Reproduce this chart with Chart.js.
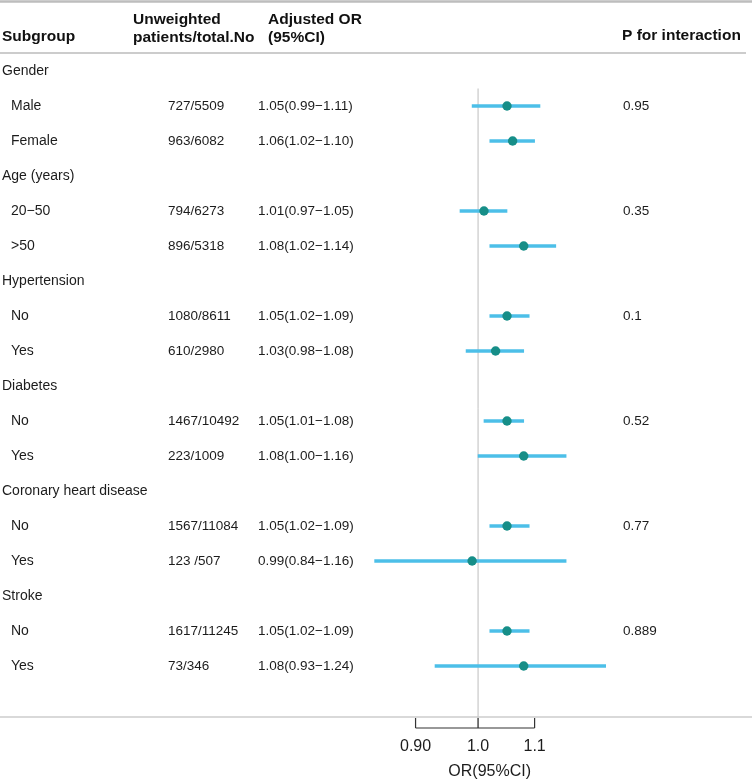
<!DOCTYPE html>
<html lang="en">
<head>
  <meta charset="UTF-8" />
  <title>Subgroup forest plot</title>
  <script src="https://cdn.jsdelivr.net/npm/chart.js"></script>
  <style>
    body {
      margin: 0;
      padding: 0;
      background: #fff;
    }
    #wrap {
      position: relative;
      width: 752px;
      height: 781px;
    }
  </style>
</head>
<body>
  <div id="wrap"><canvas id="forest"></canvas></div>

  <script>
    // table rows, top to bottom
    const rowLabels = ['Gender', 'Male', 'Female', 'Age (years)', '20\u221250', '>50',
      'Hypertension', 'No', 'Yes', 'Diabetes', 'No', 'Yes',
      'Coronary heart disease', 'No', 'Yes', 'Stroke', 'No', 'Yes'];
    const isGroup = [1, 0, 0, 1, 0, 0, 1, 0, 0, 1, 0, 0, 1, 0, 0, 1, 0, 0];
    const counts = ['', '727/5509', '963/6082', '', '794/6273', '896/5318',
      '', '1080/8611', '610/2980', '', '1467/10492', '223/1009',
      '', '1567/11084', '123 /507', '', '1617/11245', '73/346'];
    const orValue = [null, 1.05, 1.06, null, 1.01, 1.08, null, 1.05, 1.03,
      null, 1.05, 1.08, null, 1.05, 0.99, null, 1.05, 1.08];
    const ciLow = [null, 0.99, 1.02, null, 0.97, 1.02, null, 1.02, 0.98,
      null, 1.01, 1.00, null, 1.02, 0.84, null, 1.02, 0.93];
    const ciHigh = [null, 1.11, 1.10, null, 1.05, 1.14, null, 1.09, 1.08,
      null, 1.08, 1.16, null, 1.09, 1.16, null, 1.09, 1.24];
    const pInteraction = ['', '0.95', '', '', '0.35', '', '', '0.1', '', '',
      '0.52', '', '', '0.77', '', '', '0.889', ''];
    const xTicks = [0.9, 1.0, 1.1];
    const xTickLabels = ['0.90', '1.0', '1.1'];

    const fmt = v => v.toFixed(2);
    const orText = orValue.map((v, i) => v == null ? '' :
      fmt(v) + '(' + fmt(ciLow[i]) + '\u2212' + fmt(ciHigh[i]) + ')');
    const ciBars = orValue.map((v, i) => v == null ? null : [ciLow[i], ciHigh[i]]);

    const FONT = '"Liberation Sans", Arial, sans-serif';

    const tablePlugin = {
      id: 'tablePlugin',
      beforeDatasetsDraw(chart) {
        const { ctx, scales: { x, y } } = chart;
        const half = (y.getPixelForValue(1) - y.getPixelForValue(0)) / 2;
        const refX = x.getPixelForValue(1);
        ctx.save();
        ctx.strokeStyle = '#bdbdbd';
        ctx.lineWidth = 1;
        ctx.beginPath();
        ctx.moveTo(refX, y.getPixelForValue(1) - half);
        ctx.lineTo(refX, 728);
        ctx.stroke();
        ctx.restore();
      },
      afterDraw(chart) {
        const { ctx, scales: { x, y }, chartArea } = chart;
        const W = chart.width;
        ctx.save();

        // rules
        ctx.strokeStyle = '#bdbdbd';
        ctx.lineWidth = 2.5;
        ctx.beginPath(); ctx.moveTo(0, 1.5); ctx.lineTo(W, 1.5); ctx.stroke();
        ctx.strokeStyle = '#cccccc';
        ctx.lineWidth = 2;
        ctx.beginPath(); ctx.moveTo(0, 53); ctx.lineTo(746, 53); ctx.stroke();
        ctx.lineWidth = 1.5;
        ctx.beginPath(); ctx.moveTo(0, 717); ctx.lineTo(W, 717); ctx.stroke();

        // header
        ctx.fillStyle = '#111';
        ctx.textBaseline = 'middle';
        ctx.font = 'bold 15.5px ' + FONT;
        ctx.fillText('Subgroup', 2, 37);
        ctx.fillText('Unweighted', 133, 20);
        ctx.fillText('patients/total.No', 133, 38);
        ctx.fillText('Adjusted OR', 268, 20);
        ctx.fillText('(95%CI)', 268, 38);
        ctx.fillText('P for interaction', 622, 36);

        // body rows
        ctx.fillStyle = '#1c1c1c';
        rowLabels.forEach((label, i) => {
          const py = y.getPixelForValue(i);
          ctx.font = '14px ' + FONT;
          ctx.fillText(label, isGroup[i] ? 2 : 11, py);
          ctx.font = '13.5px ' + FONT;
          if (counts[i]) ctx.fillText(counts[i], 168, py);
          if (orText[i]) ctx.fillText(orText[i], 258, py);
          if (pInteraction[i]) ctx.fillText(pInteraction[i], 623, py);
        });

        // x axis
        const x0 = x.getPixelForValue(xTicks[0]);
        const x1 = x.getPixelForValue(xTicks[xTicks.length - 1]);
        ctx.strokeStyle = '#333';
        ctx.lineWidth = 1.2;
        ctx.beginPath();
        ctx.moveTo(x0, 728); ctx.lineTo(x1, 728);
        xTicks.forEach(t => {
          const px = x.getPixelForValue(t);
          ctx.moveTo(px, 728); ctx.lineTo(px, 718);
        });
        ctx.stroke();
        ctx.textAlign = 'center';
        ctx.font = '16px ' + FONT;
        xTicks.forEach((t, i) => ctx.fillText(xTickLabels[i], x.getPixelForValue(t), 747));
        ctx.fillText('OR(95%CI)', (chartArea.left + chartArea.right) / 2, 772);
        ctx.restore();
      }
    };

    new Chart(document.getElementById('forest'), {
      type: 'bar',
      data: {
        labels: rowLabels,
        datasets: [
          {
            type: 'line',
            label: 'OR',
            data: orValue,
            showLine: false,
            pointRadius: 4.7,
            pointBackgroundColor: '#168e88',
            pointBorderColor: '#168e88',
            pointBorderWidth: 0,
            order: 0
          },
          {
            label: '95% CI',
            data: ciBars,
            backgroundColor: '#4cbfe8',
            barThickness: 3,
            order: 1
          }
        ]
      },
      options: {
        indexAxis: 'y',
        responsive: true,
        maintainAspectRatio: false,
        animation: false,
        layout: { padding: { left: 345.7, right: 118.3, top: 53.5, bottom: 97.5 } },
        scales: {
          x: { type: 'logarithmic', min: 0.8, max: 1.3, display: false },
          y: { type: 'category', offset: true, display: false, grid: { display: false } }
        },
        plugins: {
          legend: { display: false },
          tooltip: { enabled: false }
        }
      },
      plugins: [tablePlugin]
    });
  </script>
</body>
</html>
